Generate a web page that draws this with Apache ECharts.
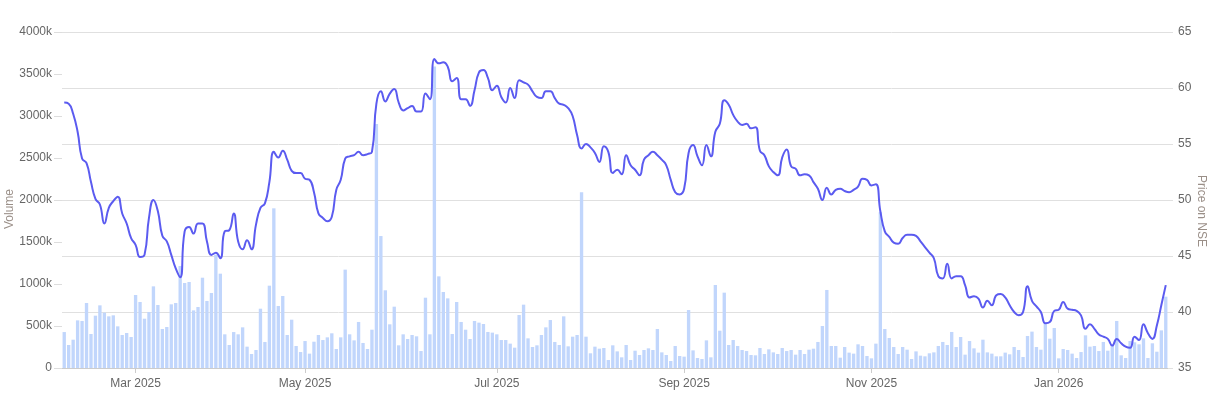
<!DOCTYPE html>
<html>
<head>
<meta charset="utf-8">
<script src="https://cdn.jsdelivr.net/npm/echarts@6/dist/echarts.min.js"></script>
<style>
  html, body { margin: 0; padding: 0; background: #ffffff; }
  #chart { width: 1213px; height: 399px; }
</style>
</head>
<body>
<div id="chart"></div>
<script>
// ---- Data ----
const firstDay = '2025-02-06';
const lastDay = '2026-02-06';
const marketHolidays = ['2025-02-26','2025-03-14','2025-03-31','2025-04-10','2025-04-14','2025-04-18',
  '2025-08-15','2025-08-27','2025-10-02','2025-10-21','2025-10-22','2025-12-25','2026-01-15','2026-01-26'];

// Daily volume (thousands of shares)
const volumeK = [
  428,274,337,567,560,774,405,623,746,659,615,627,496,393,417,369,869,786,587,667,972,750,464,488,758,774,1214,1012,1024,686,726,1075,798,893,1349,1123,401,274,428,401,484,254,
  167,214,706,310,980,1901,738,857,393,575,262,190,321,171,313,393,333,365,413,226,365,1171,401,329,548,298,226,456,2905,1571,925,520,730,270,401,345,393,377,202,837,401,3590,
  1091,905,829,405,786,548,456,345,560,540,524,429,421,401,333,333,290,242,631,754,353,250,270,393,484,571,310,274,615,258,373,393,2091,373,175,254,230,238,95,270,198,
  127,274,95,206,155,214,234,214,464,186,155,83,262,143,135,690,210,119,107,329,127,988,444,897,274,333,262,214,202,155,151,238,167,222,186,167,238,202,214,159,214,
  167,218,230,310,500,929,262,262,123,250,183,171,282,262,143,115,290,1853,464,357,250,167,250,218,107,198,147,139,175,186,262,310,274,429,250,369,159,321,234,183,337,
  186,171,139,139,183,163,250,214,131,381,433,250,218,528,349,476,115,226,214,171,119,190,389,254,262,202,310,206,270,560,151,119,321,306,282,353,119,294,194,448,849
];

// Closing price on NSE
const priceNSE = [
  58.7,58.6,57.7,56.1,53.7,53.3,51.6,50.1,49.6,47.9,49.3,49.9,50.3,48.8,47.9,46.6,46.0,44.9,45.1,48.4,50.0,49.0,46.8,46.3,45.1,43.9,43.1,47.2,47.6,47.0,47.9,47.9,46.3,45.1,45.3,44.8,47.2,47.3,48.8,46.3,45.6,46.4,
  45.6,47.8,49.3,49.7,51.6,54.3,53.8,54.4,53.6,52.6,52.4,52.4,51.9,51.8,50.7,48.8,48.4,48.1,48.5,50.9,51.8,53.7,53.9,54.0,54.3,54.0,54.1,54.3,58.6,59.7,58.8,59.5,59.9,58.7,58.0,58.2,58.4,57.9,57.9,59.5,59.0,62.6,
  62.2,62.3,61.9,60.6,60.9,59.0,59.0,58.4,59.8,61.4,61.6,60.9,59.8,60.2,59.2,58.7,60.0,59.1,60.7,60.5,60.3,59.7,59.2,59.1,59.7,59.7,59.1,58.6,58.5,58.2,57.5,55.8,54.6,55.0,54.7,54.2,53.4,54.8,54.3,52.4,52.7,
  52.3,54.0,53.1,52.7,52.2,53.6,54.0,54.3,54.0,53.6,53.1,51.8,50.7,50.5,51.0,54.2,54.9,53.9,53.1,54.9,53.9,56.1,56.8,58.9,58.5,57.6,57.0,56.7,56.8,56.4,56.5,54.4,54.0,53.0,52.5,52.2,53.8,54.5,53.0,52.8,52.2,
  52.3,52.2,51.6,51.0,50.0,51.1,50.5,50.9,51.0,50.8,50.7,50.9,51.2,51.9,51.8,51.3,51.4,49.0,47.2,46.7,46.2,46.1,46.6,46.9,46.9,46.8,46.3,45.8,45.3,44.8,43.2,43.0,44.3,43.0,43.2,43.2,42.4,41.3,41.4,41.2,40.4,
  41.0,40.6,41.5,41.6,41.3,40.6,40.0,39.7,40.0,42.3,41.0,40.5,40.0,39.0,39.1,40.1,40.2,40.9,40.3,40.2,40.1,39.7,38.5,38.9,38.5,38.0,37.8,37.6,37.0,37.6,37.2,36.9,36.8,37.8,37.5,38.9,38.1,37.6,38.8,40.6,42.4
];

const monthNames = ['Jan','Feb','Mar','Apr','May','Jun','Jul','Aug','Sep','Oct','Nov','Dec'];
const labelMonths = [0, 2, 4, 6, 8, 10]; // Jan, Mar, May, Jul, Sep, Nov

// ---- Build trading-day categories ----
function ymd(d) {
  const m = d.getUTCMonth() + 1, day = d.getUTCDate();
  return d.getUTCFullYear() + '-' + (m < 10 ? '0' : '') + m + '-' + (day < 10 ? '0' : '') + day;
}
const dates = [];
{
  const hol = new Set(marketHolidays);
  const d = new Date(firstDay + 'T00:00:00Z');
  const end = new Date(lastDay + 'T00:00:00Z');
  while (d <= end) {
    const wd = d.getUTCDay();
    const s = ymd(d);
    if (wd !== 0 && wd !== 6 && !hol.has(s)) dates.push(s);
    d.setUTCDate(d.getUTCDate() + 1);
  }
}
const n = Math.min(dates.length, volumeK.length, priceNSE.length);
const cats = dates.slice(0, n);
const volumeData = volumeK.slice(0, n).map(v => v * 1000);
const priceData = priceNSE.slice(0, n);

const labelIdx = new Set();
for (let i = 0; i < cats.length; i++) {
  const m = parseInt(cats[i].slice(5, 7), 10) - 1;
  const prevM = i > 0 ? parseInt(cats[i - 1].slice(5, 7), 10) - 1 : -1;
  if (i > 0 && m !== prevM && labelMonths.indexOf(m) >= 0) labelIdx.add(i);
}
const showAt = (idx) => labelIdx.has(idx);

const chart = echarts.init(document.getElementById('chart'), null, { renderer: 'canvas' });
const fontFamily = 'Arial, "Liberation Sans", sans-serif';
chart.setOption({
  animation: false,
  textStyle: { fontFamily: fontFamily },
  grid: { left: 62, right: 45, top: 32, bottom: 31, containLabel: false, outerBoundsMode: 'none' },
  xAxis: {
    type: 'category',
    data: cats,
    boundaryGap: true,
    axisLine: { show: true, lineStyle: { color: '#cccccc', width: 1 } },
    axisTick: { show: true, alignWithLabel: true, interval: showAt, length: 5, lineStyle: { color: '#cccccc' } },
    axisLabel: {
      interval: showAt,
      margin: 10,
      color: '#666666',
      fontSize: 12,
      fontFamily: fontFamily,
      formatter: function (v) {
        const m = parseInt(v.slice(5, 7), 10) - 1;
        return monthNames[m] + ' ' + v.slice(0, 4);
      }
    },
    splitLine: { show: false }
  },
  yAxis: [
    {
      type: 'value',
      position: 'left',
      min: 0,
      max: 4000000,
      interval: 500000,
      name: 'Volume',
      nameLocation: 'middle',
      nameGap: 46,
      nameRotate: 90,
      nameMoveOverlap: false,
      nameTextStyle: { color: '#9a8f88', fontSize: 12, fontFamily: fontFamily, padding: [0, 18, 0, 0] },
      axisLine: { show: false },
      axisTick: { show: true, length: 8, lineStyle: { color: '#dddddd' } },
      axisLabel: {
        margin: 10, color: '#666666', fontSize: 12, fontFamily: fontFamily,
        formatter: function (v) { return v === 0 ? '0' : (v / 1000) + 'k'; }
      },
      splitLine: { show: false }
    },
    {
      type: 'value',
      position: 'right',
      min: 35,
      max: 65,
      interval: 5,
      name: 'Price on NSE',
      nameLocation: 'middle',
      nameGap: 27,
      nameRotate: -90,
      nameMoveOverlap: false,
      nameTextStyle: { color: '#9a8f88', fontSize: 12, fontFamily: fontFamily, padding: [0, 0, 0, 22] },
      axisLine: { show: false },
      axisTick: { show: true, length: 5, lineStyle: { color: '#e0e0e0' } },
      axisLabel: { margin: 10, color: '#666666', fontSize: 12, fontFamily: fontFamily },
      splitLine: { show: true, lineStyle: { color: '#e0e0e0', width: 1 } }
    }
  ],
  series: [
    {
      name: 'Volume',
      type: 'bar',
      yAxisIndex: 0,
      data: volumeData,
      barCategoryGap: '25%',
      itemStyle: { color: '#c1d6fc' },
      z: 1
    },
    {
      name: 'Price on NSE',
      type: 'line',
      yAxisIndex: 1,
      data: priceData,
      smooth: true,
      showSymbol: false,
      lineStyle: { color: '#5b5bf0', width: 2 },
      itemStyle: { color: '#5b5bf0' },
      z: 3
    }
  ]
});
</script>
</body>
</html>
